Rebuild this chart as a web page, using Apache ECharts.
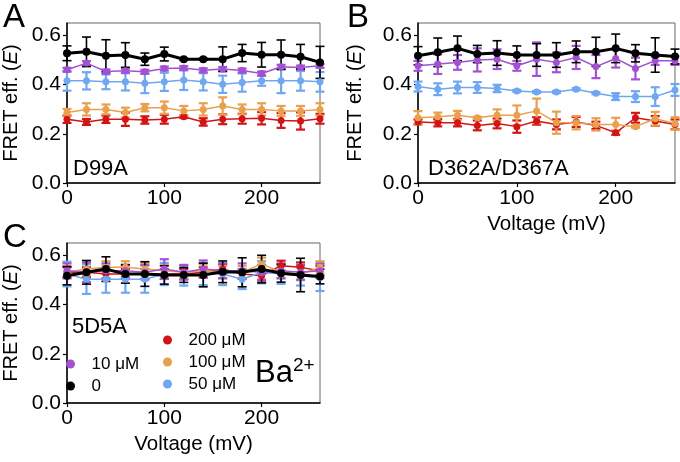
<!DOCTYPE html>
<html><head><meta charset="utf-8">
<script src="https://cdn.jsdelivr.net/npm/echarts@6/dist/echarts.min.js"></script>
<style>html,body{margin:0;padding:0;background:#fff}#c{width:680px;height:462px}</style>
</head><body><div id="c"></div><script>
// Voltage (mV)
const voltages = [0,20,40,60,80,100,120,140,160,180,200,220,240,260];
const yTicks = [0, 0.2, 0.4, 0.6];
const xTicks = [0, 100, 200];
const concNames = ['200 μM','100 μM','50 μM','10 μM','0'];
const concColors = ['#d21417','#e9a04d','#6fa7f1','#a351d3','#000000'];
const panelNames = ['D99A','D362A/D367A','5D5A'];
const panelLetters = ['A','B','C'];

// Panel A (D99A)
const A_200 = [0.259,0.248,0.259,0.259,0.256,0.259,0.269,0.248,0.259,0.261,0.263,0.254,0.252,0.261];
const A_200_err = [0.015,0.012,0.015,0.027,0.015,0.018,0.005,0.015,0.02,0.02,0.025,0.03,0.035,0.02];
const A_100 = [0.286,0.299,0.299,0.286,0.306,0.306,0.293,0.299,0.313,0.299,0.299,0.293,0.293,0.299];
const A_100_err = [0.015,0.025,0.02,0.02,0.015,0.025,0.02,0.025,0.035,0.02,0.025,0.02,0.02,0.025];
const A_50 = [0.415,0.415,0.411,0.411,0.405,0.411,0.418,0.411,0.401,0.408,0.415,0.415,0.415,0.411];
const A_50_err = [0.04,0.035,0.03,0.035,0.04,0.037,0.04,0.035,0.035,0.037,0.02,0.05,0.04,0.04];
const A_10 = [0.460,0.487,0.453,0.456,0.452,0.465,0.467,0.458,0.463,0.457,0.445,0.472,0.469,0.476];
const A_10_err = [0.008,0.008,0.008,0.008,0.008,0.008,0.008,0.008,0.008,0.008,0.008,0.008,0.008,0.008];
const A_0 = [0.527,0.533,0.517,0.520,0.503,0.524,0.503,0.503,0.503,0.528,0.521,0.521,0.513,0.490];
const A_0_err = [0.03,0.06,0.065,0.05,0.025,0.028,0.004,0.004,0.05,0.035,0.05,0.06,0.05,0.065];

// Panel B (D362A/D367A)
const B_200 = [0.248,0.245,0.245,0.234,0.242,0.229,0.252,0.238,0.248,0.234,0.204,0.265,0.252,0.238];
const B_200_err = [0.01,0.015,0.015,0.02,0.02,0.025,0.015,0.02,0.02,0.015,0.008,0.02,0.02,0.02];
const B_100 = [0.265,0.269,0.275,0.265,0.275,0.275,0.293,0.245,0.245,0.238,0.238,0.229,0.261,0.242];
const B_100_err = [0.027,0.017,0.018,0.004,0.024,0.04,0.05,0.045,0.027,0.025,0.027,0.004,0.028,0.025];
const B_50 = [0.392,0.381,0.388,0.388,0.384,0.374,0.370,0.370,0.381,0.365,0.351,0.351,0.351,0.378];
const B_50_err = [0.02,0.024,0.024,0.022,0.015,0.004,0.004,0.004,0.004,0.004,0.014,0.022,0.038,0.024];
const B_10 = [0.476,0.483,0.490,0.500,0.503,0.476,0.503,0.490,0.510,0.473,0.506,0.465,0.497,0.497];
const B_10_err = [0.02,0.04,0.03,0.047,0.04,0.02,0.068,0.04,0.047,0.047,0.037,0.044,0.017,0.017];
const B_0 = [0.517,0.531,0.547,0.524,0.528,0.520,0.520,0.520,0.533,0.533,0.547,0.527,0.520,0.514];
const B_0_err = [0.037,0.058,0.05,0.035,0.05,0.037,0.046,0.05,0.044,0.059,0.058,0.035,0.07,0.03];

// Panel C (5D5A)
const C_200 = [0.531,0.531,0.524,0.524,0.524,0.524,0.524,0.531,0.544,0.524,0.517,0.558,0.551,0.537];
const C_200_err = [0.02,0.02,0.02,0.02,0.02,0.02,0.02,0.02,0.02,0.02,0.02,0.02,0.02,0.02];
const C_100 = [0.531,0.544,0.551,0.551,0.544,0.537,0.531,0.537,0.531,0.531,0.565,0.531,0.524,0.551];
const C_100_err = [0.025,0.025,0.025,0.025,0.025,0.025,0.025,0.025,0.025,0.025,0.025,0.025,0.025,0.025];
const C_50 = [0.524,0.503,0.503,0.503,0.503,0.524,0.517,0.524,0.524,0.503,0.531,0.524,0.517,0.510];
const C_50_err = [0.05,0.06,0.055,0.055,0.055,0.045,0.04,0.045,0.045,0.04,0.045,0.04,0.04,0.055];
const C_10 = [0.537,0.531,0.537,0.537,0.531,0.544,0.531,0.544,0.537,0.537,0.531,0.537,0.531,0.537];
const C_10_err = [0.03,0.04,0.03,0.025,0.03,0.04,0.03,0.035,0.03,0.03,0.03,0.03,0.03,0.03];
const C_0 = [0.517,0.531,0.544,0.524,0.524,0.520,0.520,0.520,0.533,0.531,0.544,0.527,0.520,0.514];
const C_0_err = [0.037,0.048,0.05,0.037,0.05,0.037,0.03,0.048,0.044,0.059,0.056,0.036,0.068,0.03];

const panels = [
  [[A_200,A_200_err],[A_100,A_100_err],[A_50,A_50_err],[A_10,A_10_err],[A_0,A_0_err]],
  [[B_200,B_200_err],[B_100,B_100_err],[B_50,B_50_err],[B_10,B_10_err],[B_0,B_0_err]],
  [[C_200,C_200_err],[C_100,C_100_err],[C_50,C_50_err],[C_10,C_10_err],[C_0,C_0_err]]
];

const FONT = 'Liberation Sans, Arial, sans-serif';
const grids = [
  {left:63, top:23, width:257, height:160},
  {left:418, top:23, width:257, height:160},
  {left:63, top:243, width:257, height:160}
];
const yNameGaps = [46, 53, 46];

function errRender(color, lw){
  return function(params, api){
    const x = api.value(0), y = api.value(1), e = api.value(2);
    const t = api.coord([x, y + e]), b = api.coord([x, y - e]);
    const hw = 4.5;
    const style = {stroke: color, lineWidth: lw, fill: null};
    return {type:'group', children:[
      {type:'line', shape:{x1:t[0],y1:t[1],x2:b[0],y2:b[1]}, style:style},
      {type:'line', shape:{x1:t[0]-hw,y1:t[1],x2:t[0]+hw,y2:t[1]}, style:style},
      {type:'line', shape:{x1:b[0]-hw,y1:b[1],x2:b[0]+hw,y2:b[1]}, style:style}
    ]};
  };
}

const series = [];
panels.forEach(function(panel, pi){
  panel.forEach(function(pair, ci){
    const vals = pair[0], errs = pair[1];
    const color = concColors[ci];
    const isBlack = ci === 4;
    series.push({
      type:'custom', xAxisIndex:pi, yAxisIndex:pi, clip:false, silent:true,
      renderItem: errRender(color, isBlack ? 1.6 : 2.2),
      encode:{x:0, y:1},
      data: voltages.map(function(v,k){ return [v, vals[k], errs[k]]; }),
      z: 2
    });
    series.push({
      type:'line', name: concNames[ci], xAxisIndex:pi, yAxisIndex:pi, clip:false,
      symbol:'circle', symbolSize: isBlack ? 8 : 7, showSymbol:true,
      color: color,
      itemStyle:{color: color},
      lineStyle:{color: color, width: isBlack ? 3 : 1.5},
      data: voltages.map(function(v,k){ return [v, vals[k]]; }),
      animation:false, z: 2
    });
  });
});

const xAxes = grids.map(function(g, i){
  return {
    gridIndex:i, type:'value', min:0, max:260, interval:100,
    name: i === 0 ? '' : 'Voltage (mV)', nameLocation:'middle', nameGap:31,
    nameTextStyle:{fontSize:20.5, fontFamily:FONT, color:'#000'},
    axisLine:{show:true, onZero:false, lineStyle:{color:'#000', width:1.5}},
    axisTick:{show:true, length:4, lineStyle:{color:'#000', width:1.2}, customValues: xTicks},
    axisLabel:{fontSize:21, fontFamily:FONT, color:'#000', margin:5, customValues: xTicks},
    splitLine:{show:false}
  };
});
const yAxes = grids.map(function(g, i){
  return {
    gridIndex:i, type:'value', min:0, max:0.65, interval:0.2,
    name:'FRET eff. ({i|E})', nameLocation:'middle', nameGap:yNameGaps[i],
    nameTextStyle:{fontSize:20, fontFamily:FONT, color:'#000',
      rich:{i:{fontSize:20, fontFamily:FONT, fontStyle:'italic', color:'#000'}}},
    axisLine:{show:true, onZero:false, lineStyle:{color:'#000', width:1.5}},
    axisTick:{show:true, length:4, lineStyle:{color:'#000', width:1.2}, customValues: yTicks},
    axisLabel:{fontSize:21, fontFamily:FONT, color:'#000', margin:6, customValues: yTicks,
      formatter:function(v){ return Number(v).toFixed(1); }},
    splitLine:{show:false}
  };
});

const titles = [
  {text:panelLetters[0], left:-2, top:-4, textStyle:{fontSize:33, fontWeight:'normal', fontFamily:FONT, color:'#000'}},
  {text:panelLetters[1], left:342, top:-4, textStyle:{fontSize:33, fontWeight:'normal', fontFamily:FONT, color:'#000'}},
  {text:panelLetters[2], left:-2, top:216, textStyle:{fontSize:33, fontWeight:'normal', fontFamily:FONT, color:'#000'}},
  {text:panelNames[0], left:68, top:153, textStyle:{fontSize:22, fontWeight:'normal', fontFamily:FONT, color:'#000'}},
  {text:panelNames[1], left:423, top:153, textStyle:{fontSize:22, fontWeight:'normal', fontFamily:FONT, color:'#000'}},
  {text:panelNames[2], left:67, top:311, textStyle:{fontSize:22, fontWeight:'normal', fontFamily:FONT, color:'#000'}},
  {text:'{b|Ba}{s|2+}', left:250, top:351, textStyle:{fontWeight:'normal', fontFamily:FONT, color:'#000',
    rich:{b:{fontSize:31, fontFamily:FONT, color:'#000', lineHeight:35},
          s:{fontSize:19, fontFamily:FONT, color:'#000', verticalAlign:'top', lineHeight:19}}}}
];

const legendBase = {
  orient:'vertical', icon:'circle', itemWidth:32, itemHeight:9, itemGap:2,
  textStyle:{fontSize:17, fontFamily:FONT, color:'#000', lineHeight:20},
  selectedMode:false
};
const legends = [
  Object.assign({}, legendBase, {data:[concNames[3], concNames[4]], left:61, top:349}),
  Object.assign({}, legendBase, {data:[concNames[0], concNames[1], concNames[2]], left:158, top:325})
];

const chart = echarts.init(document.getElementById('c'), null, {renderer:'canvas'});
chart.setOption({
  animation:false,
  backgroundColor:'#fff',
  title: titles,
  legend: legends,
  grid: grids.map(function(g){ return Object.assign({show:true, borderColor:'#666', borderWidth:1, backgroundColor:'transparent'}, g); }),
  xAxis: xAxes,
  yAxis: yAxes,
  series: series
});
</script></body></html>
